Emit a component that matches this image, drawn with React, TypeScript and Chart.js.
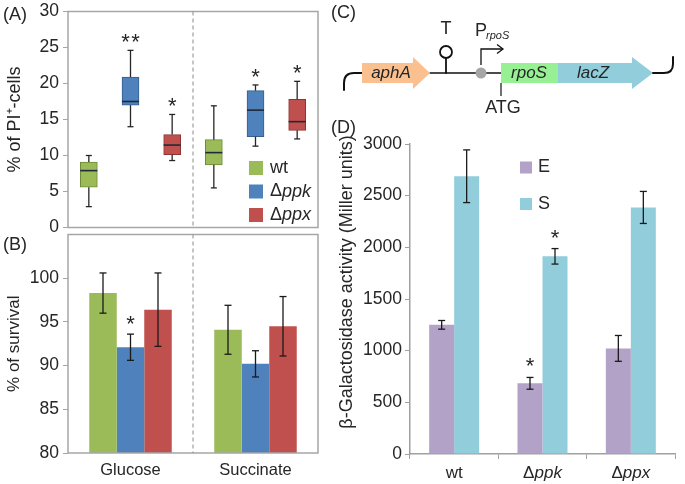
import React, { useEffect, useRef } from 'react';
import { Chart, registerables } from 'chart.js';
Chart.register(...registerables);

const FONT = "'Liberation Sans', Arial, sans-serif";
const TXT = '#262626';
const FRAME = '#A6A6A6';

// ---------- data ----------
const conditions = ['Glucose', 'Succinate'];
const strains = ['wt', 'Δppk', 'Δppx'];
const strainColors = ['#9BBB59', '#4F81BD', '#C0504D'];
const strainDark = ['#6F8A3A', '#365E8E', '#8E3532'];

// Panel A: % of PI+ cells, box stats [min, q1, median, q3, max] for Glucose, Succinate
const piWt = [[2.9, 5.6, 7.9, 9.1, 10.0], [5.5, 8.7, 10.4, 12.2, 16.9]];
const piPpk = [[14.0, 17.0, 17.5, 20.9, 24.6], [11.3, 12.6, 16.3, 19.0, 19.8]];
const piPpx = [[9.3, 10.1, 11.45, 12.9, 15.7], [12.3, 13.5, 14.7, 17.8, 20.3]];
const piStars = [['', '**', '*'], ['', '*', '*']];
const piTicks = [0, 5, 10, 15, 20, 25, 30];

// Panel B: % of survival (mean, sd) for Glucose, Succinate
const survWt = [98.3, 94.1];
const survWtErr = [2.3, 2.8];
const survPpk = [92.1, 90.2];
const survPpkErr = [1.5, 1.5];
const survPpx = [96.4, 94.5];
const survPpxErr = [4.2, 3.4];
const survStars = [['', ''], ['*', ''], ['', '']];
const survTicks = [80, 85, 90, 95, 100];

// Panel D: beta-galactosidase activity (Miller units)
const galStrains = ['wt', 'Δppk', 'Δppx'];
const phases = ['E', 'S'];
const phaseColors = ['#B3A2C7', '#92CDDC'];
const galE = [1250, 684, 1022];
const galEErr = [42, 57, 125];
const galS = [2688, 1913, 2386];
const galSErr = [255, 75, 155];
const galEStars = ['', '*', ''];
const galSStars = ['', '*', ''];
const galTicks = [0, 500, 1000, 1500, 2000, 2500, 3000];

// ---------- layout of the three canvases on the page ----------
const A_TOP = -3;
const A_H = 245;
const B_TOP = 220;
const B_H = 264;
const D_LEFT = 330;
const TICK_SIZE = 17.5;

// ---------- helpers ----------
type Part = [string, boolean];
function strainParts(name: string): Part[] {
  return name.startsWith('Δ') ? [['Δ', false], [name.slice(1), true]] : [[name, false]];
}
function drawParts(ctx: CanvasRenderingContext2D, parts: Part[], x: number, y: number, size: number, align: 'left' | 'center') {
  const fonts = parts.map(([, it]) => `${it ? 'italic ' : ''}${size}px ${FONT}`);
  const widths = parts.map(([t], i) => { ctx.font = fonts[i]; return ctx.measureText(t).width; });
  const total = widths.reduce((a, b) => a + b, 0);
  let cx = align === 'center' ? x - total / 2 : x;
  ctx.textAlign = 'left';
  parts.forEach(([t], i) => { ctx.font = fonts[i]; ctx.fillText(t, cx, y); cx += widths[i]; });
}
function line(ctx: CanvasRenderingContext2D, x1: number, y1: number, x2: number, y2: number) {
  ctx.beginPath(); ctx.moveTo(x1, y1); ctx.lineTo(x2, y2); ctx.stroke();
}
function errBars(chart: any, errs: number[][], cap: number) {
  const ctx = chart.ctx; const y = chart.scales.y;
  chart.data.datasets.forEach((ds: any, di: number) => {
    const meta = chart.getDatasetMeta(di);
    ds.data.forEach((v: number, i: number) => {
      const el = meta.data[i]; const e = errs[di][i];
      const yt = y.getPixelForValue(v + e); const yb = y.getPixelForValue(v - e);
      ctx.strokeStyle = '#1a1a1a'; ctx.lineWidth = 1.3;
      line(ctx, el.x, yt, el.x, yb);
      line(ctx, el.x - cap, yt, el.x + cap, yt);
      line(ctx, el.x - cap, yb, el.x + cap, yb);
    });
  });
}
function star(ctx: CanvasRenderingContext2D, text: string, x: number, baseY: number) {
  ctx.fillStyle = TXT; ctx.font = `22px ${FONT}`; ctx.textAlign = 'center'; ctx.textBaseline = 'alphabetic';
  if (text === '**') { ctx.fillText('*', x - 5, baseY); ctx.fillText('*', x + 5, baseY); }
  else if (text) ctx.fillText(text, x, baseY);
}
function panelLabel(ctx: CanvasRenderingContext2D, t: string, x: number, y: number) {
  ctx.fillStyle = TXT; ctx.font = `18px ${FONT}`; ctx.textAlign = 'left'; ctx.textBaseline = 'middle';
  ctx.fillText(t, x, y);
}
function keepTicks(vals: number[]) {
  return (s: any) => { s.ticks = vals.map((v) => ({ value: v })); };
}

// ---------- Panel A ----------
const boxSets = [piWt, piPpk, piPpx];
const slots = conditions.flatMap((c) => strains.map((s) => `${c} ${s}`));

function configA(): any {
  return {
    type: 'bar',
    data: {
      labels: slots,
      datasets: boxSets.map((b, si) => ({
        label: strains[si],
        data: slots.map((_, k) => (k % 3 === si ? [b[Math.floor(k / 3)][1], b[Math.floor(k / 3)][3]] : null)),
        backgroundColor: strainColors[si],
        borderColor: strainDark[si],
        borderWidth: 1,
        borderSkipped: false,
        barThickness: 17,
        grouped: false,
      })),
    },
    options: {
      responsive: false, animation: false,
      layout: { padding: { top: 0, right: 12, bottom: 0, left: 0 } },
      plugins: { legend: { display: false }, tooltip: { enabled: false } },
      scales: {
        x: { display: false },
        y: {
          min: 0, max: 30,
          afterBuildTicks: keepTicks(piTicks),
          ticks: { font: { family: FONT, size: TICK_SIZE }, color: TXT, padding: 4 },
          grid: { drawOnChartArea: false, tickLength: 5, color: FRAME },
          border: { display: false },
          title: { display: true, text: '% of PI⁺-cells', font: { family: FONT, size: 18 }, color: TXT, padding: { top: 4, bottom: 0 } },
          afterFit: (s: any) => { s.width = 68; },
        },
      },
    },
    plugins: [{
      id: 'panelA',
      afterDatasetsDraw(chart: any) {
        const { ctx, chartArea: a, scales: { x, y } } = chart;
        const oy = -A_TOP;
        ctx.save();
        ctx.strokeStyle = FRAME; ctx.lineWidth = 1.5;
        ctx.strokeRect(a.left, a.top, a.right - a.left, a.bottom - a.top);
        const xd = (x.getPixelForValue(2) + x.getPixelForValue(3)) / 2;
        ctx.setLineDash([4, 3]); ctx.strokeStyle = '#8C8C8C'; ctx.lineWidth = 1;
        line(ctx, xd, a.top, xd, a.bottom);
        ctx.setLineDash([]);
        boxSets.forEach((b, si) => {
          const meta = chart.getDatasetMeta(si);
          conditions.forEach((_, ci) => {
            const el = meta.data[ci * 3 + si]; const cx = el.x;
            const [mn, q1, md, q3, mx] = b[ci];
            const py = (v: number) => y.getPixelForValue(v);
            ctx.strokeStyle = '#262626'; ctx.lineWidth = 1.3;
            line(ctx, cx, py(q3), cx, py(mx)); line(ctx, cx - 3, py(mx), cx + 3, py(mx));
            line(ctx, cx, py(q1), cx, py(mn)); line(ctx, cx - 3, py(mn), cx + 3, py(mn));
            ctx.strokeStyle = '#1F2A3A'; ctx.lineWidth = 1.6;
            line(ctx, cx - 8.5, py(md), cx + 8.5, py(md));
            star(ctx, piStars[ci][si], cx, py(mx) - 1);
          });
        });
        // legend
        strains.forEach((s, si) => {
          const cy = 168 + si * 23.5 + oy;
          ctx.fillStyle = strainColors[si];
          ctx.fillRect(249, cy - 7, 14, 14);
          ctx.fillStyle = TXT; ctx.textBaseline = 'middle';
          drawParts(ctx, strainParts(s), 270, cy, 18, 'left');
        });
        panelLabel(ctx, '(A)', 3, 15 + oy);
        ctx.restore();
      },
    }],
  };
}

// ---------- Panel B ----------
const survSets = [survWt, survPpk, survPpx];
const survErrs = [survWtErr, survPpkErr, survPpxErr];
function configB(): any {
  return {
    type: 'bar',
    data: {
      labels: conditions,
      datasets: survSets.map((d, si) => ({
        label: strains[si], data: d, backgroundColor: strainColors[si],
        categoryPercentage: 0.66, barPercentage: 1, borderWidth: 0,
      })),
    },
    options: {
      responsive: false, animation: false,
      layout: { padding: { top: 0, right: 12, bottom: 0, left: 0 } },
      plugins: { legend: { display: false }, tooltip: { enabled: false } },
      scales: {
        x: {
          ticks: { font: { family: FONT, size: 16.5 }, color: TXT, padding: 8 },
          grid: { display: false, drawTicks: false },
          border: { display: false },
          afterFit: (s: any) => { s.height = 31; },
        },
        y: {
          min: 80, max: 105,
          afterBuildTicks: keepTicks(survTicks),
          ticks: { font: { family: FONT, size: TICK_SIZE }, color: TXT, padding: 4 },
          grid: { drawOnChartArea: false, tickLength: 5, color: FRAME },
          border: { display: false },
          title: { display: true, text: '% of survival', font: { family: FONT, size: 17 }, color: TXT, padding: { top: 4, bottom: 0 } },
          afterFit: (s: any) => { s.width = 68; },
        },
      },
    },
    plugins: [{
      id: 'panelB',
      afterDatasetsDraw(chart: any) {
        const { ctx, chartArea: a, scales: { y } } = chart;
        ctx.save();
        ctx.strokeStyle = FRAME; ctx.lineWidth = 1.5;
        ctx.strokeRect(a.left, a.top, a.right - a.left, a.bottom - a.top);
        const xd = (a.left + a.right) / 2;
        ctx.setLineDash([4, 3]); ctx.strokeStyle = '#8C8C8C'; ctx.lineWidth = 1;
        line(ctx, xd, a.top, xd, a.bottom);
        ctx.setLineDash([]);
        errBars(chart, survErrs, 3.5);
        survSets.forEach((d, si) => {
          const meta = chart.getDatasetMeta(si);
          d.forEach((v, ci) => star(ctx, survStars[si][ci], meta.data[ci].x, y.getPixelForValue(v + survErrs[si][ci]) - 3));
        });
        panelLabel(ctx, '(B)', 3, 245 - B_TOP);
        ctx.restore();
      },
    }],
  };
}

// ---------- Panel C + D ----------
function drawDiagram(ctx: CanvasRenderingContext2D) {
  ctx.save();
  ctx.strokeStyle = '#111'; ctx.lineCap = 'round';
  // left curve
  ctx.lineWidth = 2;
  ctx.beginPath(); ctx.moveTo(14, 90); ctx.lineTo(14, 83); ctx.quadraticCurveTo(14, 73, 24, 73); ctx.lineTo(32, 73); ctx.stroke();
  // backbone line
  ctx.lineWidth = 1.5; line(ctx, 100, 73, 171, 73);
  // aphA arrow
  ctx.fillStyle = '#FAC090';
  ctx.beginPath(); ctx.moveTo(32, 63); ctx.lineTo(83, 63); ctx.lineTo(83, 57); ctx.lineTo(100, 73); ctx.lineTo(83, 89); ctx.lineTo(83, 83); ctx.lineTo(32, 83); ctx.closePath(); ctx.fill();
  // terminator
  ctx.lineWidth = 1.8;
  line(ctx, 116, 73, 116, 58);
  ctx.beginPath(); ctx.arc(116, 52, 6, 0, Math.PI * 2); ctx.stroke();
  // promoter dot
  ctx.fillStyle = '#A6A6A6'; ctx.beginPath(); ctx.arc(151, 73, 5.5, 0, Math.PI * 2); ctx.fill();
  // promoter arrow
  ctx.lineWidth = 1.3; ctx.lineCap = 'butt';
  ctx.beginPath(); ctx.moveTo(151, 65); ctx.lineTo(151, 49); ctx.lineTo(173, 49); ctx.stroke();
  ctx.beginPath(); ctx.moveTo(167, 44.5); ctx.lineTo(173, 49); ctx.lineTo(167, 53.5); ctx.stroke();
  // rpoS box
  ctx.fillStyle = '#98F095'; ctx.fillRect(171, 63, 57, 20);
  // lacZ arrow
  ctx.fillStyle = '#92CDDC';
  ctx.beginPath(); ctx.moveTo(228, 63); ctx.lineTo(302, 63); ctx.lineTo(302, 57); ctx.lineTo(323, 73); ctx.lineTo(302, 89); ctx.lineTo(302, 83); ctx.lineTo(228, 83); ctx.closePath(); ctx.fill();
  // right curve
  ctx.lineWidth = 2; ctx.lineCap = 'round';
  ctx.beginPath(); ctx.moveTo(323, 73); ctx.lineTo(334, 73); ctx.quadraticCurveTo(343, 73, 343, 64); ctx.lineTo(343, 57); ctx.stroke();
  // ATG tick
  ctx.lineWidth = 1.2; ctx.lineCap = 'butt'; line(ctx, 171, 83, 171, 96);
  // texts
  ctx.fillStyle = TXT; ctx.textBaseline = 'middle';
  drawParts(ctx, [['aphA', true]], 61, 73, 17, 'center');
  drawParts(ctx, [['rpoS', true]], 199, 73, 17, 'center');
  drawParts(ctx, [['lacZ', true]], 263, 73, 17, 'center');
  drawParts(ctx, [['T', false]], 116, 29, 18, 'center');
  drawParts(ctx, [['ATG', false]], 173, 108, 18, 'center');
  drawParts(ctx, [['P', false]], 145, 31, 18, 'left');
  drawParts(ctx, [['rpoS', true]], 156, 36, 11, 'left');
  panelLabel(ctx, '(C)', 1, 13);
  ctx.restore();
}

const galSets = [galE, galS];
const galErrs = [galEErr, galSErr];
const galStars = [galEStars, galSStars];
function configD(): any {
  return {
    type: 'bar',
    data: {
      labels: galStrains,
      datasets: galSets.map((d, pi) => ({
        label: phases[pi], data: d, backgroundColor: phaseColors[pi],
        categoryPercentage: 0.566, barPercentage: 1, borderWidth: 0,
      })),
    },
    options: {
      responsive: false, animation: false,
      layout: { padding: { top: 144, right: 10, bottom: 0, left: 0 } },
      plugins: { legend: { display: false }, tooltip: { enabled: false } },
      scales: {
        x: {
          ticks: { display: false },
          grid: { drawOnChartArea: false, tickLength: 5, offset: true, color: '#A0A0A0' },
          border: { color: '#A0A0A0', width: 1.5 },
          afterFit: (s: any) => { s.height = 30; },
        },
        y: {
          min: 0, max: 3000,
          afterBuildTicks: keepTicks(galTicks),
          ticks: { font: { family: FONT, size: TICK_SIZE }, color: TXT, padding: 3, callback: (v: number) => String(v) },
          grid: { drawOnChartArea: false, tickLength: 5, color: '#A0A0A0' },
          border: { color: '#A0A0A0', width: 1.5 },
          afterFit: (s: any) => { s.width = 80; },
        },
      },
    },
    plugins: [{
      id: 'panelD',
      afterDatasetsDraw(chart: any) {
        const { ctx, chartArea: a, scales: { x, y } } = chart;
        ctx.save();
        errBars(chart, galErrs, 3.5);
        galSets.forEach((d, pi) => {
          const meta = chart.getDatasetMeta(pi);
          d.forEach((v, i) => star(ctx, galStars[pi][i], meta.data[i].x, y.getPixelForValue(v + galErrs[pi][i]) - 4));
        });
        // x labels
        ctx.fillStyle = TXT; ctx.textBaseline = 'middle';
        galStrains.forEach((s, i) => drawParts(ctx, strainParts(s), x.getPixelForValue(i), a.bottom + 19, 17, 'center'));
        // y title
        ctx.save();
        ctx.translate(17, 282); ctx.rotate(-Math.PI / 2);
        ctx.font = `18px ${FONT}`; ctx.textAlign = 'center'; ctx.textBaseline = 'middle';
        ctx.fillText('β-Galactosidase activity (Miller units)', 0, 0);
        ctx.restore();
        // legend
        phases.forEach((p, pi) => {
          const cy = 167.5 + pi * 36.5;
          ctx.fillStyle = phaseColors[pi]; ctx.fillRect(190, cy - 6, 12, 12);
          ctx.fillStyle = TXT; ctx.font = `18px ${FONT}`; ctx.textAlign = 'left'; ctx.textBaseline = 'middle';
          ctx.fillText(p, 208, cy);
        });
        panelLabel(ctx, '(D)', 1, 128);
        drawDiagram(ctx);
        ctx.restore();
      },
    }],
  };
}

function ChartCanvas({ make, left, top, w, h }: { make: () => any; left: number; top: number; w: number; h: number }) {
  const ref = useRef<HTMLCanvasElement>(null);
  useEffect(() => {
    const c = new Chart(ref.current as HTMLCanvasElement, make());
    return () => c.destroy();
  }, []);
  return <canvas ref={ref} width={w} height={h} style={{ position: 'absolute', left, top, width: w, height: h }} />;
}

export default function App() {
  return (
    <div style={{ position: 'absolute', left: 0, top: 0, width: 685, height: 484, background: '#fff', overflow: 'hidden' }}>
      <ChartCanvas make={configA} left={0} top={A_TOP} w={330} h={A_H} />
      <ChartCanvas make={configB} left={0} top={B_TOP} w={330} h={B_H} />
      <ChartCanvas make={configD} left={D_LEFT} top={0} w={355} h={484} />
    </div>
  );
}
